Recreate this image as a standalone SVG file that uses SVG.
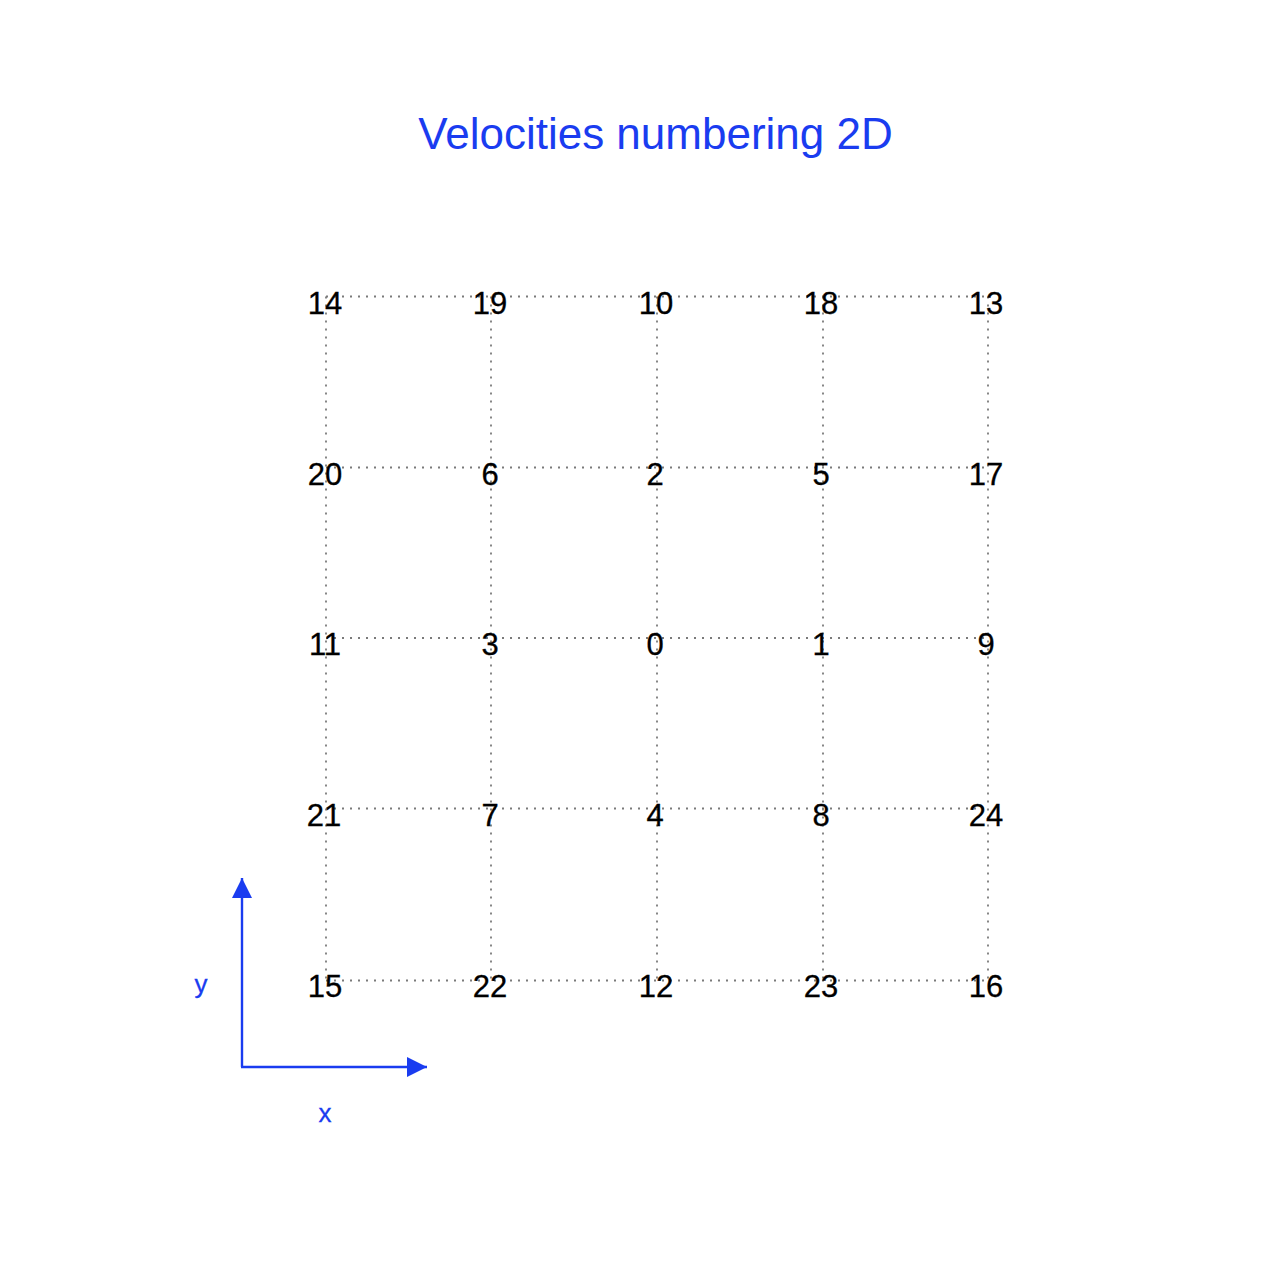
<svg xmlns="http://www.w3.org/2000/svg" width="1280" height="1280" viewBox="0 0 1280 1280">
<style>
.grid{stroke:#7a7a7a;stroke-width:1.8;stroke-dasharray:2 6;fill:none}
.lbl{font-family:"Liberation Sans",Arial,sans-serif;font-size:31px;fill:#000;text-anchor:middle;stroke:#000;stroke-width:0.3}
.ax{stroke:#1a3cf0;stroke-width:2.4;fill:none}
.axl{font-family:"Liberation Sans",Arial,sans-serif;font-size:26px;fill:#1a3cf0;text-anchor:middle;stroke:#1a3cf0;stroke-width:0.3}
</style>
<defs>
<marker id="ah" viewBox="0 0 10 10" refX="10" refY="5" markerWidth="20" markerHeight="20" markerUnits="userSpaceOnUse" orient="auto">
<path d="M0,0 L10,5 L0,10 Z" fill="#1a3cf0"/>
</marker>
</defs>
<rect width="1280" height="1280" fill="#fff"/>
<text x="655.5" y="149" font-family="'Liberation Sans',Arial,sans-serif" font-size="44" fill="#1a3cf0" text-anchor="middle">Velocities numbering 2D</text>
<g id="connectors">
<line class="grid" x1="326" y1="296.5" x2="988" y2="296.5"/>
<line class="grid" x1="326" y1="467.5" x2="988" y2="467.5"/>
<line class="grid" x1="326" y1="638" x2="988" y2="638"/>
<line class="grid" x1="326" y1="808.5" x2="988" y2="808.5"/>
<line class="grid" x1="326" y1="980.5" x2="988" y2="980.5"/>
<line class="grid" x1="326" y1="296.5" x2="326" y2="980.5"/>
<line class="grid" x1="491" y1="296.5" x2="491" y2="980.5"/>
<line class="grid" x1="657" y1="296.5" x2="657" y2="980.5"/>
<line class="grid" x1="823" y1="296.5" x2="823" y2="980.5"/>
<line class="grid" x1="988" y1="296.5" x2="988" y2="980.5"/>
</g>
<g id="n14"><text class="lbl" x="325" y="314">14</text></g>
<g id="n19"><text class="lbl" x="490" y="314">19</text></g>
<g id="n10"><text class="lbl" x="656" y="314">10</text></g>
<g id="n18"><text class="lbl" x="821" y="314">18</text></g>
<g id="n13"><text class="lbl" x="986" y="314">13</text></g>
<g id="n20"><text class="lbl" x="325" y="485">20</text></g>
<g id="n6"><text class="lbl" x="490" y="485">6</text></g>
<g id="n2"><text class="lbl" x="655" y="485">2</text></g>
<g id="n5"><text class="lbl" x="821" y="485">5</text></g>
<g id="n17"><text class="lbl" x="986" y="485">17</text></g>
<g id="n11"><text class="lbl" x="325" y="655">11</text></g>
<g id="n3"><text class="lbl" x="490" y="655">3</text></g>
<g id="n0"><text class="lbl" x="655" y="655">0</text></g>
<g id="n1"><text class="lbl" x="821" y="655">1</text></g>
<g id="n9"><text class="lbl" x="986" y="655">9</text></g>
<g id="n21"><text class="lbl" x="324" y="826">21</text></g>
<g id="n7"><text class="lbl" x="490" y="826">7</text></g>
<g id="n4"><text class="lbl" x="655" y="826">4</text></g>
<g id="n8"><text class="lbl" x="821" y="826">8</text></g>
<g id="n24"><text class="lbl" x="986" y="826">24</text></g>
<g id="n15"><text class="lbl" x="325" y="997">15</text></g>
<g id="n22"><text class="lbl" x="490" y="997">22</text></g>
<g id="n12"><text class="lbl" x="656" y="997">12</text></g>
<g id="n23"><text class="lbl" x="821" y="997">23</text></g>
<g id="n16"><text class="lbl" x="986" y="997">16</text></g>
<g id="axes">
<path class="ax" d="M242,1067 L242,878" marker-end="url(#ah)"/>
<path class="ax" d="M241,1067 L427,1067" marker-end="url(#ah)"/>
<text class="axl" x="201" y="993">y</text>
<text class="axl" x="325" y="1122">x</text>
</g>
</svg>
